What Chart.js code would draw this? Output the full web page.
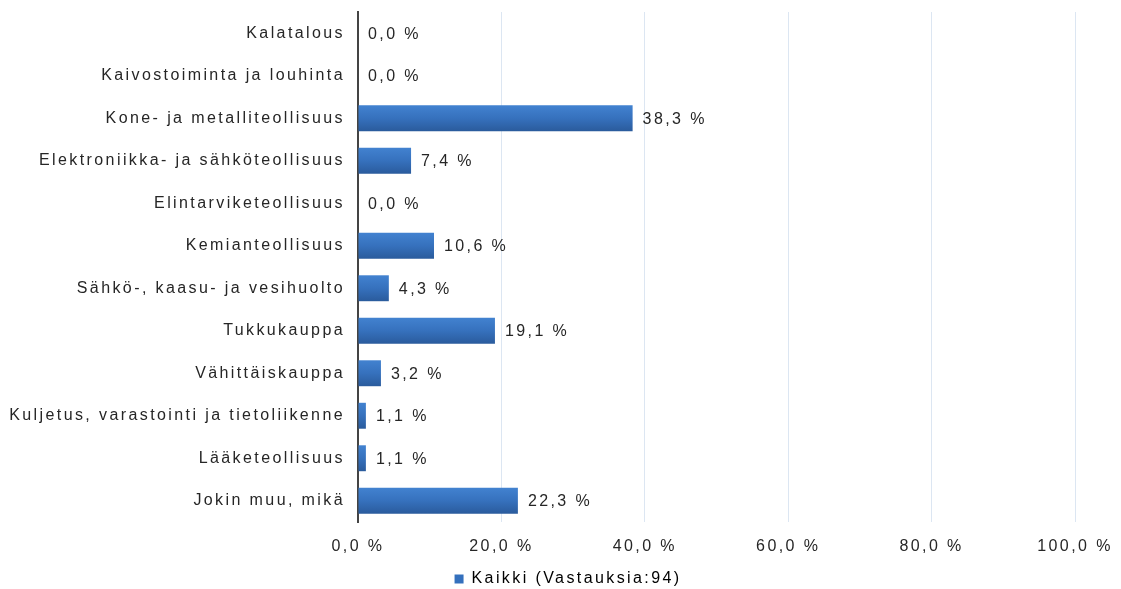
<!DOCTYPE html>
<html>
<head>
<meta charset="utf-8">
<title>Toimialat</title>
<script src="https://cdn.jsdelivr.net/npm/chart.js@4.4.1/dist/chart.umd.min.js"></script>
<style>
  html, body { margin: 0; padding: 0; background: #fff; }
  canvas { display: block; }
</style>
</head>
<body>
<canvas id="toimialaChart" width="1121" height="589"></canvas>
<script>
const categories = [
    'Kalatalous',
    'Kaivostoiminta ja louhinta',
    'Kone- ja metalliteollisuus',
    'Elektroniikka- ja sähköteollisuus',
    'Elintarviketeollisuus',
    'Kemianteollisuus',
    'Sähkö-, kaasu- ja vesihuolto',
    'Tukkukauppa',
    'Vähittäiskauppa',
    'Kuljetus, varastointi ja tietoliikenne',
    'Lääketeollisuus',
    'Jokin muu, mikä'
];
const shares = [0.0, 0.0, 38.3, 7.4, 0.0, 10.6, 4.3, 19.1, 3.2, 1.1, 1.1, 22.3];
const seriesName = 'Kaikki (Vastauksia:94)';
const xTicks = [0, 20, 40, 60, 80, 100];

const FONT = "'Liberation Sans', Arial, sans-serif";
const TEXT = '#262626';
const SPACING = '2.4px';

// Finnish number format: 38,3 %
const pct = (v) => v.toFixed(1).replace('.', ',') + ' %';

// canvas text is drawn spaced out a bit
const letterSpacing = {
    id: 'letterSpacing',
    beforeUpdate(chart) { chart.ctx.letterSpacing = SPACING; },
    beforeDraw(chart) { chart.ctx.letterSpacing = SPACING; }
};

// legend sits under the plot, a little lower and centred on the whole canvas
const legendPlacement = {
    id: 'legendPlacement',
    afterLayout(chart) {
        const lg = chart.legend;
        lg.left = 15;
        lg.right = chart.width;
        lg.top += 8;
        lg.bottom += 8;
    }
};

const valueLabels = {
    id: 'valueLabels',
    afterDatasetsDraw(chart) {
        const ctx = chart.ctx;
        const meta = chart.getDatasetMeta(0);
        ctx.save();
        ctx.letterSpacing = SPACING;
        ctx.font = '16px ' + FONT;
        ctx.fillStyle = TEXT;
        ctx.textAlign = 'left';
        ctx.textBaseline = 'middle';
        meta.data.forEach((bar, i) => {
            ctx.fillText(pct(shares[i]), bar.x + 10, bar.y + 1);
        });
        ctx.restore();
    }
};

// vertical shading on each bar
function barFill(context) {
    const chart = context.chart;
    if (!chart.chartArea || context.dataIndex === undefined) return '#3470bd';
    const y = chart.scales.y.getPixelForValue(context.dataIndex);
    const g = chart.ctx.createLinearGradient(0, y - 13, 0, y + 13);
    g.addColorStop(0, '#4282d0');
    g.addColorStop(0.5, '#3671bd');
    g.addColorStop(1, '#2a5b9c');
    return g;
}

new Chart(document.getElementById('toimialaChart'), {
    type: 'bar',
    data: {
        labels: categories,
        datasets: [{
            label: seriesName,
            data: shares,
            backgroundColor: barFill,
            borderWidth: 0,
            categoryPercentage: 1,
            barPercentage: 0.61
        }]
    },
    options: {
        indexAxis: 'y',
        responsive: false,
        animation: false,
        devicePixelRatio: 1,
        layout: { padding: { left: 0, right: 46, top: 12, bottom: 0 } },
        scales: {
            x: {
                min: 0,
                max: 100,
                afterBuildTicks(scale) {
                    scale.ticks = xTicks.map(v => ({ value: v }));
                },
                afterFit(scale) {
                    scale.height = 35;
                    scale.paddingLeft = 0;
                    scale.paddingRight = 0;
                },
                grid: { color: '#dce6f2', lineWidth: 1, drawTicks: false },
                border: { display: false },
                ticks: {
                    padding: 15,
                    color: TEXT,
                    font: { family: FONT, size: 16 },
                    callback: (v) => pct(v)
                }
            },
            y: {
                afterFit(scale) {
                    scale.width = 358;
                    scale.paddingTop = 0;
                    scale.paddingBottom = 0;
                },
                grid: { display: false, drawTicks: false },
                border: { display: true, color: '#444444', width: 2 },
                ticks: {
                    padding: 13,
                    color: TEXT,
                    font: { family: FONT, size: 16 }
                }
            }
        },
        plugins: {
            legend: {
                position: 'bottom',
                labels: {
                    boxWidth: 9,
                    boxHeight: 9,
                    padding: 6,
                    color: TEXT,
                    font: { family: FONT, size: 16 },
                    generateLabels: () => [{
                        text: seriesName,
                        fillStyle: '#3470bd',
                        strokeStyle: '#3470bd',
                        lineWidth: 0,
                        datasetIndex: 0
                    }]
                }
            },
            tooltip: { enabled: false }
        }
    },
    plugins: [letterSpacing, legendPlacement, valueLabels]
});
</script>
</body>
</html>
